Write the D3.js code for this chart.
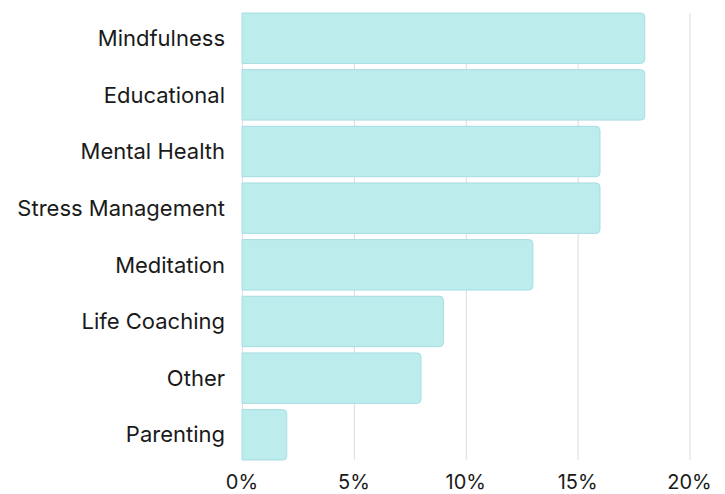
<!DOCTYPE html>
<html>
<head>
<meta charset="utf-8">
<script src="https://cdn.jsdelivr.net/npm/d3@7"></script>
<style>
  body { margin: 0; background: #fff; }
  svg { display: block; font-family: Inter, "DejaVu Sans", sans-serif; }
</style>
</head>
<body>
<svg id="chart"></svg>
<script>
const categories = ["Mindfulness", "Educational", "Mental Health", "Stress Management", "Meditation", "Life Coaching", "Other", "Parenting"];
const values = [18, 18, 16, 16, 13, 9, 8, 2];
const ticks = [0, 5, 10, 15, 20];

const width = 725, height = 494;

const x = d3.scaleLinear()
    .domain([0, 20])
    .range([242, 689.5]);

const y = d3.scaleBand()
    .domain(categories)
    .range([13, 460])
    .paddingInner(0.11)
    .paddingOuter(0);

const svg = d3.select("#chart")
    .attr("width", width)
    .attr("height", height);

// gridlines
svg.append("g")
  .selectAll("line")
  .data(ticks)
  .join("line")
    .attr("x1", d => x(d) + 0.5)
    .attr("x2", d => x(d) + 0.5)
    .attr("y1", 13)
    .attr("y2", 460)
    .attr("stroke", "#dcdcdc")
    .attr("stroke-width", 1);

// bars, right side rounded
const r = 4;
svg.append("g")
  .selectAll("path")
  .data(values)
  .join("path")
    .attr("d", (d, i) => {
      const x0 = x(0), x1 = x(d), y0 = y(categories[i]), h = y.bandwidth();
      return `M${x0},${y0} H${x1 - r} Q${x1},${y0} ${x1},${y0 + r} V${y0 + h - r} Q${x1},${y0 + h} ${x1 - r},${y0 + h} H${x0} Z`;
    })
    .attr("fill", "#bdecec")
    .attr("stroke", "#a6dde3")
    .attr("stroke-width", 1);

// category labels
svg.append("g")
  .selectAll("text")
  .data(categories)
  .join("text")
    .attr("x", 225)
    .attr("y", d => y(d) + y.bandwidth() / 2)
    .attr("dy", "0.35em")
    .attr("text-anchor", "end")
    .attr("font-size", 22)
    .attr("fill", "#1a1a1a")
    .text(d => d);

// x tick labels
svg.append("g")
  .selectAll("text")
  .data(ticks)
  .join("text")
    .attr("x", d => x(d))
    .attr("y", 482)
    .attr("dy", "0.35em")
    .attr("text-anchor", "middle")
    .attr("font-size", 20)
    .attr("fill", "#1a1a1a")
    .text(d => d + "%");
</script>
</body>
</html>
